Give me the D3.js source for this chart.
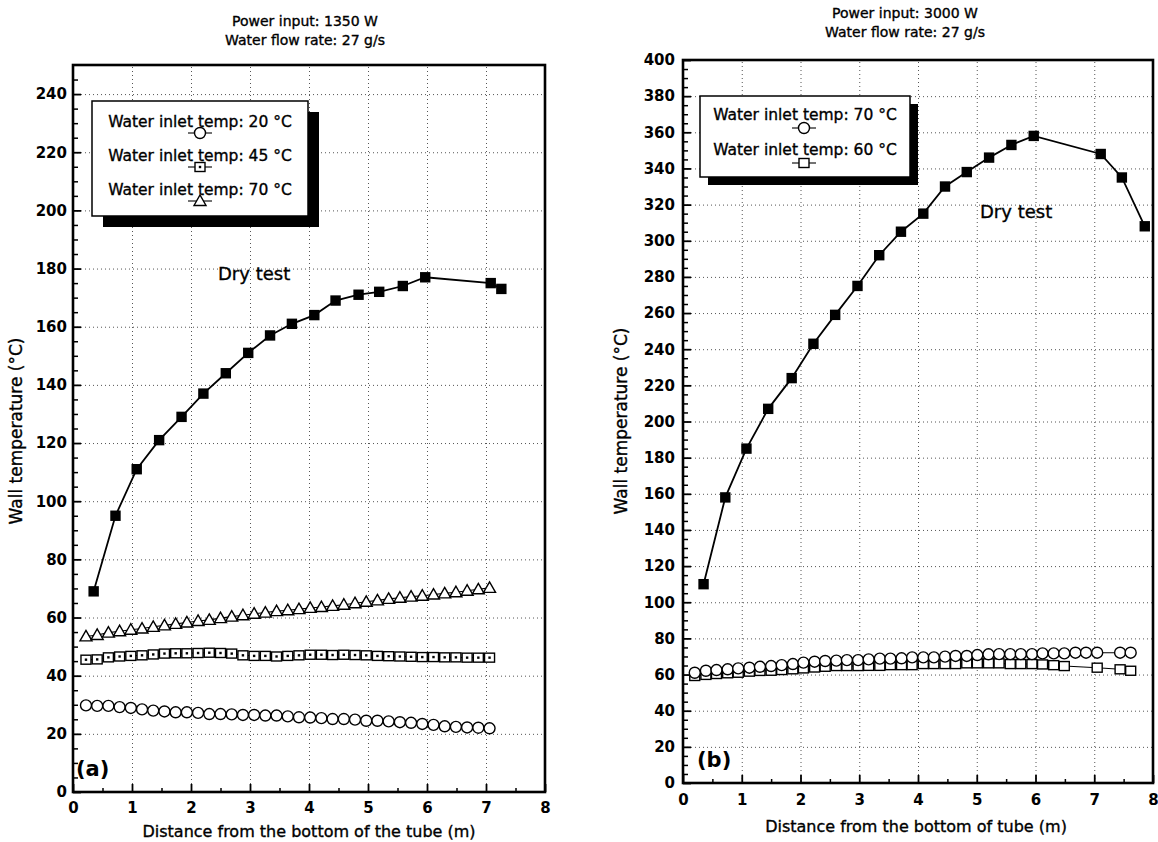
<!DOCTYPE html>
<head>
    <meta charset="utf-8">
    <script src="https://d3js.org/d3.v7.min.js"></script>
    <style>
        body { margin: 0; background: #fff; }
        text { font-family: "DejaVu Sans", sans-serif; fill: #000; }
        .heavy { stroke: #000; stroke-width: 0.35px; }
    </style>
</head>
<body>
    <svg id="chart" width="1158" height="842"></svg>
    <script>
        // ---- panel (a): 1350 W ----
        var distA = [0.22, 0.41, 0.60, 0.79, 0.98, 1.17, 1.36, 1.55, 1.74, 1.93, 2.12, 2.31, 2.50, 2.69, 2.88, 3.07, 3.26, 3.45, 3.64,
            3.83, 4.02, 4.21, 4.40, 4.59, 4.78, 4.97, 5.16, 5.35, 5.54, 5.73, 5.92, 6.11, 6.30, 6.49, 6.68, 6.87, 7.06];
        var temp20A = [29.8, 29.6, 29.6, 29.2, 28.9, 28.4, 28.0, 27.7, 27.4, 27.4, 27.2, 26.8, 26.8, 26.7, 26.5, 26.5, 26.3, 26.3, 26.0,
            25.7, 25.6, 25.4, 25.1, 25.1, 24.9, 24.5, 24.5, 24.3, 24.0, 23.8, 23.4, 23.1, 22.6, 22.4, 22.2, 22.1, 21.9];
        var temp45A = [45.5, 45.6, 46.3, 46.6, 46.8, 47.0, 47.3, 47.6, 47.7, 47.7, 47.8, 47.9, 47.8, 47.6, 47.0, 46.8, 46.8, 46.6, 46.8,
            47.0, 47.2, 47.2, 47.1, 47.2, 47.1, 47.0, 46.8, 46.7, 46.6, 46.5, 46.4, 46.4, 46.3, 46.3, 46.2, 46.2, 46.2];
        var temp70A = [53.5, 54.0, 54.8, 55.3, 55.8, 56.2, 56.8, 57.3, 57.8, 58.3, 58.8, 59.2, 59.8, 60.3, 60.8, 61.3, 61.7, 62.2, 62.5,
            62.9, 63.3, 63.6, 64.0, 64.4, 64.9, 65.4, 65.9, 66.4, 66.8, 67.2, 67.5, 67.9, 68.3, 68.7, 69.2, 69.7, 70.2];
        var dryDistA = [0.35, 0.72, 1.08, 1.46, 1.84, 2.21, 2.59, 2.97, 3.34, 3.71, 4.09, 4.45, 4.84, 5.19, 5.59, 5.97, 7.08, 7.26];
        var dryTempA = [69, 95, 111, 121, 129, 137, 144, 151, 157, 161, 164, 169, 171, 172, 174, 177, 175, 173];
        var yTicksA = [0, 20, 40, 60, 80, 100, 120, 140, 160, 180, 200, 220, 240];

        // ---- panel (b): 3000 W ----
        var distB70 = [0.20, 0.39, 0.57, 0.76, 0.94, 1.13, 1.31, 1.50, 1.68, 1.87, 2.05, 2.24, 2.42, 2.61, 2.79, 2.98, 3.16, 3.35, 3.53, 3.72,
            3.90, 4.09, 4.27, 4.46, 4.64, 4.83, 5.01, 5.20, 5.38, 5.57, 5.75, 5.94, 6.12, 6.31, 6.49, 6.68, 6.86, 7.05, 7.44, 7.62];
        var temp70B = [61.0, 62.1, 62.5, 62.9, 63.4, 63.8, 64.3, 64.7, 65.2, 65.8, 66.6, 67.1, 67.5, 67.7, 68.0, 68.0, 68.4, 68.8, 68.8, 69.0,
            69.5, 69.5, 69.5, 69.9, 70.3, 70.3, 70.8, 71.2, 71.3, 71.3, 71.3, 71.3, 71.7, 71.7, 71.7, 72.1, 72.1, 72.1, 72.1, 72.1];
        var distB60 = [0.20, 0.39, 0.57, 0.76, 0.94, 1.13, 1.31, 1.50, 1.68, 1.87, 2.05, 2.24, 2.42, 2.61, 2.79, 2.98, 3.16, 3.35, 3.53, 3.72,
            3.90, 4.09, 4.27, 4.46, 4.64, 4.83, 5.01, 5.20, 5.38, 5.57, 5.75, 5.94, 6.12, 6.31, 6.49, 7.05, 7.44, 7.62];
        var temp60B = [59.2, 59.8, 60.3, 60.7, 61.0, 61.6, 62.0, 62.1, 62.5, 62.9, 63.4, 63.9, 64.3, 64.7, 64.7, 64.7, 64.8, 64.8, 65.2, 65.2,
            65.2, 65.8, 65.8, 65.8, 65.8, 66.2, 66.2, 66.2, 66.2, 65.8, 65.8, 65.8, 65.6, 65.2, 64.7, 63.8, 62.9, 62.1];
        var dryDistB = [0.35, 0.72, 1.08, 1.45, 1.85, 2.22, 2.59, 2.97, 3.34, 3.71, 4.09, 4.46, 4.83, 5.21, 5.59, 5.97, 7.11, 7.47, 7.86];
        var dryTempB = [110, 158, 185, 207, 224, 243, 259, 275, 292, 305, 315, 330, 338, 346, 353, 358, 348, 335, 308];
        var yTicksB = [0, 20, 40, 60, 80, 100, 120, 140, 160, 180, 200, 220, 240, 260, 280, 300, 320, 340, 360, 380, 400];

        var xTicks = [0, 1, 2, 3, 4, 5, 6, 7, 8];

        var svg = d3.select("#chart");

        // draws one marker shape centred at (cx, cy)
        function marker(g, shape, cx, cy, dot) {
            if (shape == "circle") {
                g.append("circle").attr("cx", cx).attr("cy", cy).attr("r", 5.5)
                    .attr("fill", "#fff").attr("stroke", "#000").attr("stroke-width", 1.4);
            } else if (shape == "square") {
                g.append("rect").attr("x", cx - 5).attr("y", cy - 4.5).attr("width", 10).attr("height", 9)
                    .attr("fill", "#fff").attr("stroke", "#000").attr("stroke-width", 1.4);
                if (dot) {
                    g.append("rect").attr("x", cx - 1.2).attr("y", cy - 1.2).attr("width", 2.4).attr("height", 2.4).attr("fill", "#000");
                }
            } else if (shape == "triangle") {
                g.append("path").attr("d", "M" + (cx - 6) + "," + (cy + 4.5) + "L" + cx + "," + (cy - 6) + "L" + (cx + 6) + "," + (cy + 4.5) + "Z")
                    .attr("fill", "#fff").attr("stroke", "#000").attr("stroke-width", 1.4);
            } else if (shape == "filled") {
                g.append("rect").attr("x", cx - 5.2).attr("y", cy - 5.2).attr("width", 10.4).attr("height", 10.4).attr("fill", "#000");
            }
        }

        function panel(o) {
            var x = d3.scaleLinear().domain([0, 8]).range([o.left, o.right]);
            var y = d3.scaleLinear().domain([0, o.ymax]).range([o.bottom, o.top]);
            var g = svg.append("g");
            var h = o.bottom - o.top, w = o.right - o.left;

            // dotted grid
            g.append("g").attr("transform", "translate(0," + o.bottom + ")")
                .call(d3.axisBottom(x).tickValues(xTicks.slice(1, -1)).tickSize(-h).tickFormat(""))
                .call(s => s.select(".domain").remove())
                .selectAll("line").attr("stroke", "#555").attr("stroke-dasharray", "1,3");
            g.append("g").attr("transform", "translate(" + o.left + ",0)")
                .call(d3.axisLeft(y).tickValues(o.yTicks.slice(1).filter(v => v < o.ymax)).tickSize(-w).tickFormat(""))
                .call(s => s.select(".domain").remove())
                .selectAll("line").attr("stroke", "#555").attr("stroke-dasharray", "1,3");

            // minor ticks, pointing inward
            var xMinor = d3.range(0.5, 8, 1);
            var yMinor = d3.range(5, o.ymax, 5).filter(v => v % 20 != 0);
            g.append("g").attr("transform", "translate(0," + o.bottom + ")")
                .call(d3.axisBottom(x).tickValues(xMinor).tickSize(-4).tickFormat(""))
                .call(s => s.select(".domain").remove())
                .selectAll("line").attr("stroke-width", 1.5);
            g.append("g").attr("transform", "translate(" + o.left + ",0)")
                .call(d3.axisLeft(y).tickValues(yMinor).tickSize(-5).tickFormat(""))
                .call(s => s.select(".domain").remove())
                .selectAll("line").attr("stroke-width", 1.5);

            // major ticks with labels
            var xa = g.append("g").attr("transform", "translate(0," + o.bottom + ")")
                .call(d3.axisBottom(x).tickValues(xTicks).tickSize(-8).tickPadding(o.xPad));
            xa.select(".domain").remove();
            xa.selectAll("line").attr("stroke-width", 1.8);
            xa.selectAll("text").attr("font-family", "DejaVu Sans").attr("font-weight", "bold").attr("font-size", 15);
            var ya = g.append("g").attr("transform", "translate(" + o.left + ",0)")
                .call(d3.axisLeft(y).tickValues(o.yTicks).tickSize(-8).tickPadding(o.yPad));
            ya.select(".domain").remove();
            ya.selectAll("line").attr("stroke-width", 1.8);
            ya.selectAll("text").attr("font-family", "DejaVu Sans").attr("font-weight", "bold").attr("font-size", 15);

            // frame
            g.append("rect").attr("x", o.left).attr("y", o.top).attr("width", w).attr("height", h)
                .attr("fill", "none").attr("stroke", "#000").attr("stroke-width", 2.6);

            // series
            o.series.forEach(function (s) {
                var pts = s.xs.map((v, i) => [x(v), y(s.ys[i])]);
                g.append("path").attr("d", d3.line()(pts)).attr("fill", "none")
                    .attr("stroke", "#000").attr("stroke-width", s.shape == "filled" ? 1.8 : 1.1);
                pts.forEach(p => marker(g, s.shape, p[0], p[1], s.dot));
            });

            // titles and labels
            g.append("text").attr("class", "heavy").attr("x", o.titleX).attr("y", o.titleY).attr("text-anchor", "middle")
                .attr("font-size", 14).text(o.title1);
            g.append("text").attr("class", "heavy").attr("x", o.titleX).attr("y", o.titleY + 19).attr("text-anchor", "middle")
                .attr("font-size", 14).text("Water flow rate: 27 g/s");
            g.append("text").attr("class", "heavy").attr("x", o.xLabelX).attr("y", o.xLabelY).attr("text-anchor", "middle")
                .attr("font-size", 16).text(o.xLabel);
            g.append("text").attr("class", "heavy").attr("transform", "translate(" + o.yLabelX + "," + o.yLabelY + ") rotate(-90)")
                .attr("text-anchor", "middle").attr("font-size", 17).text("Wall temperature (°C)");
            g.append("text").attr("class", "heavy").attr("x", o.dryX).attr("y", o.dryY).attr("font-size", 18).text("Dry test");
            g.append("text").attr("x", o.tagX).attr("y", o.bottom - 16).attr("font-size", 21)
                .attr("font-weight", "bold").text(o.tag);

            // legend with drop shadow
            var L = o.legend;
            g.append("rect").attr("x", L.x + L.sh).attr("y", L.y + L.sh).attr("width", L.w).attr("height", L.h).attr("fill", "#000");
            g.append("rect").attr("x", L.x).attr("y", L.y).attr("width", L.w).attr("height", L.h)
                .attr("fill", "#fff").attr("stroke", "#000").attr("stroke-width", 1.5);
            L.items.forEach(function (it, i) {
                var ty = L.y + L.first + i * L.step;
                g.append("text").attr("class", "heavy").attr("x", L.x + L.w / 2).attr("y", ty).attr("text-anchor", "middle")
                    .attr("font-size", 15.5).text(it.label);
                var sx = L.symX, sy = ty + L.symDy;
                g.append("line").attr("x1", sx - 12).attr("x2", sx + 12).attr("y1", sy).attr("y2", sy)
                    .attr("stroke", "#000").attr("stroke-width", 1.1);
                marker(g, it.shape, sx, sy, it.dot);
            });
        }

        panel({
            left: 73, right: 545, top: 65, bottom: 792, ymax: 250, yTicks: yTicksA, xPad: 10, yPad: 6,
            series: [
                { xs: distA, ys: temp20A, shape: "circle" },
                { xs: distA, ys: temp45A, shape: "square", dot: true },
                { xs: distA, ys: temp70A, shape: "triangle" },
                { xs: dryDistA, ys: dryTempA, shape: "filled" }
            ],
            title1: "Power input: 1350 W", titleX: 305, titleY: 26,
            xLabel: "Distance from the bottom of the tube (m)", xLabelX: 309, xLabelY: 837,
            yLabelX: 22, yLabelY: 431,
            dryX: 218, dryY: 280, tag: "(a)", tagX: 76,
            legend: {
                x: 92, y: 101, w: 216, h: 115, sh: 11, first: 26, step: 34, symX: 200, symDy: 6,
                items: [
                    { label: "Water inlet temp: 20 °C", shape: "circle" },
                    { label: "Water inlet temp: 45 °C", shape: "square", dot: true },
                    { label: "Water inlet temp: 70 °C", shape: "triangle" }
                ]
            }
        });

        panel({
            left: 683, right: 1153, top: 60, bottom: 783, ymax: 400, yTicks: yTicksB, xPad: 11, yPad: 8,
            series: [
                { xs: distB60, ys: temp60B, shape: "square" },
                { xs: distB70, ys: temp70B, shape: "circle" },
                { xs: dryDistB, ys: dryTempB, shape: "filled" }
            ],
            title1: "Power input: 3000 W", titleX: 905, titleY: 18,
            xLabel: "Distance from the bottom of tube (m)", xLabelX: 916, xLabelY: 832,
            yLabelX: 627, yLabelY: 421,
            dryX: 980, dryY: 218, tag: "(b)", tagX: 697,
            legend: {
                x: 700, y: 96, w: 210, h: 81, sh: 8, first: 24, step: 35, symX: 804, symDy: 8,
                items: [
                    { label: "Water inlet temp: 70 °C", shape: "circle" },
                    { label: "Water inlet temp: 60 °C", shape: "square" }
                ]
            }
        });
    </script>
</body>
